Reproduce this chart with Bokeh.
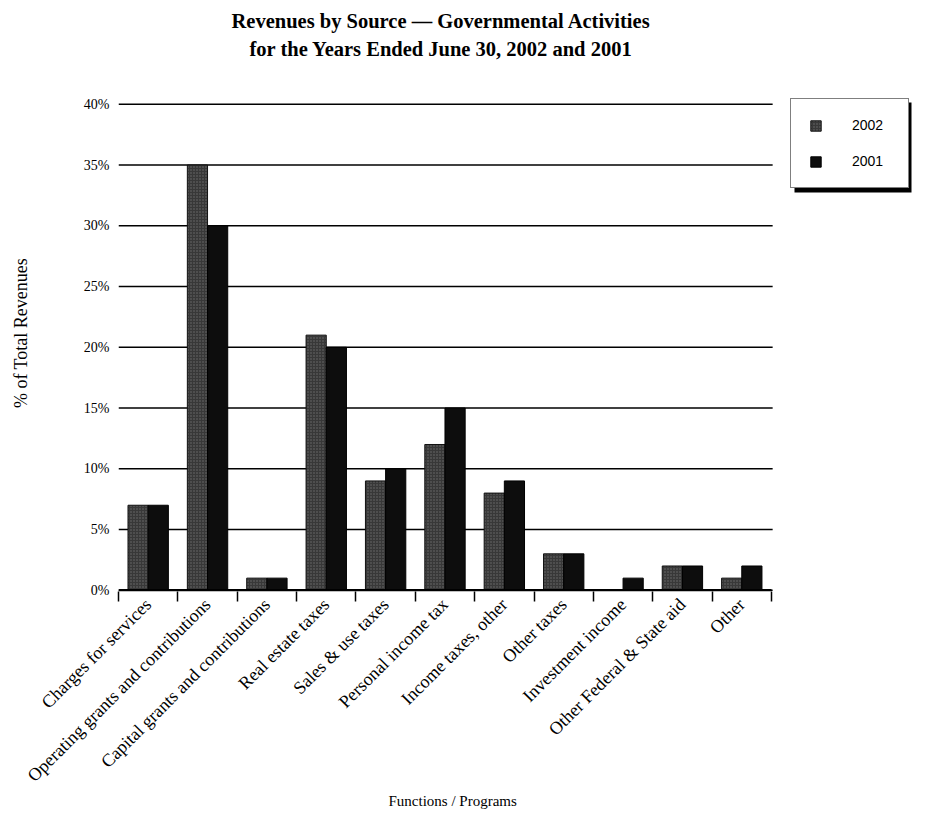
import numpy as np
from bokeh.plotting import figure
from bokeh.models import (ColumnDataSource, Range1d, FixedTicker, Title, Legend,
                          LegendItem, BoxAnnotation)
from bokeh.transform import dodge
from bokeh.embed import file_html
from bokeh.resources import INLINE

categories = ["Charges for services", "Operating grants and contributions",
              "Capital grants and contributions", "Real estate taxes",
              "Sales & use taxes", "Personal income tax", "Income taxes, other",
              "Other taxes", "Investment income", "Other Federal & State aid", "Other"]
v2002 = [7, 35, 1, 21, 9, 12, 8, 3, 0, 2, 1]
v2001 = [7, 30, 1, 20, 10, 15, 9, 3, 1, 2, 2]
y_ticks = [0, 5, 10, 15, 20, 25, 30, 35, 40]
y_tick_labels = ["0%", "5%", "10%", "15%", "20%", "25%", "30%", "35%", "40%"]

n = len(categories)
xs = list(range(1, n + 1))
src = ColumnDataSource(dict(x=xs, v2002=v2002, v2001=v2001))

SERIF = "Liberation Serif"
W, H = 915, 813
LEFT, TOP, BOTTOM = 118, 74, 222
PX_PER_CAT = 59.36
PX_PER_PCT = 12.15
frame_w = W - LEFT
frame_h = H - TOP - BOTTOM
x_end = 0.5 + frame_w / PX_PER_CAT
y_start = -0.1
y_end = y_start + frame_h / PX_PER_PCT

p = figure(width=W, height=H, output_backend="svg", toolbar_location=None,
           x_range=Range1d(0.5, x_end), y_range=Range1d(y_start, y_end),
           min_border_left=LEFT, min_border_right=0, min_border_top=TOP,
           min_border_bottom=BOTTOM)
p.outline_line_color = None
p.background_fill_color = "white"
p.border_fill_color = "white"
p.xgrid.grid_line_color = None
p.ygrid.grid_line_color = None

# horizontal grid lines spanning the category area only
grid_src = ColumnDataSource(dict(x0=[0.5] * len(y_ticks), x1=[n + 0.52] * len(y_ticks),
                                 y=y_ticks))
p.segment(x0="x0", x1="x1", y0="y", y1="y", source=grid_src,
          line_color="black", line_width=1.5)

r02 = p.vbar(x=dodge("x", -0.17, range=p.x_range), top="v2002", width=0.34, source=src,
             fill_color="#383838", line_color="#111111", line_width=1,
             hatch_pattern="dot", hatch_color="#bdbdbd", hatch_scale=3,
             hatch_weight=0.6, hatch_alpha=0.4)
r01 = p.vbar(x=dodge("x", 0.17, range=p.x_range), top="v2001", width=0.34, source=src,
             fill_color="#0d0d0d", line_color="#000000", line_width=1)

# baseline
p.segment(x0=[0.5], x1=[n + 0.5], y0=[0], y1=[0], line_color="black", line_width=2.5)

# x axis: labels at centres, tick marks at category boundaries
xa = p.xaxis[0]
xa.ticker = FixedTicker(ticks=xs, minor_ticks=[x - 0.5 for x in xs] + [n + 0.5])
xa.major_label_overrides = {x: c for x, c in zip(xs, categories)}
xa.major_label_orientation = np.pi / 4
xa.major_tick_out = 0
xa.major_tick_in = 0
xa.minor_tick_out = 10
xa.minor_tick_in = 0
xa.minor_tick_line_color = "black"
xa.minor_tick_line_width = 1.5
xa.axis_line_color = None
xa.major_label_text_font = SERIF
xa.major_label_text_font_style = "normal"
xa.major_label_text_font_size = "18px"
xa.major_label_text_color = "black"
xa.major_label_standoff = 0

# y axis
ya = p.yaxis[0]
ya.ticker = FixedTicker(ticks=y_ticks)
ya.major_label_overrides = {t: l for t, l in zip(y_ticks, y_tick_labels)}
ya.axis_line_color = None
ya.major_tick_line_color = None
ya.major_tick_out = 0
ya.major_tick_in = 0
ya.minor_tick_line_color = None
ya.major_label_text_font = SERIF
ya.major_label_text_font_size = "14px"
ya.major_label_text_color = "black"
ya.major_label_standoff = 9
ya.axis_label = "% of Total Revenues"
ya.axis_label_text_font = SERIF
ya.axis_label_text_font_style = "normal"
ya.axis_label_text_font_size = "18px"
ya.axis_label_text_color = "black"
ya.axis_label_standoff = 50

# titles
t2 = Title(text="for the Years Ended June 30, 2002 and 2001", align="left", offset=131,
           text_font=SERIF, text_font_style="bold", text_font_size="20.5px",
           text_color="black", standoff=30)
t1 = Title(text="Revenues by Source \u2014 Governmental Activities", align="left",
           offset=113, text_font=SERIF, text_font_style="bold", text_font_size="20.5px",
           text_color="black", standoff=-22)
p.add_layout(t2, "above")
p.add_layout(t1, "above")

xlab = Title(text="Functions / Programs", align="left", offset=270,
             text_font=SERIF, text_font_style="normal", text_font_size="15px",
             text_color="black", standoff=-10)
p.add_layout(xlab, "below")

# legend with drop shadow
LEG_X, LEG_Y, LEG_W, LEG_H = 672, 403, 117, 90
shadow = BoxAnnotation(left=LEG_X + 4, right=LEG_X + LEG_W + 4,
                       bottom=LEG_Y - 4, top=LEG_Y + LEG_H - 4,
                       left_units="screen", right_units="screen",
                       bottom_units="screen", top_units="screen",
                       fill_color="black", fill_alpha=1, line_color=None)
p.add_layout(shadow)

legend = Legend(items=[LegendItem(label="2002", renderers=[r02]),
                       LegendItem(label="2001", renderers=[r01])],
                location=(LEG_X, LEG_Y), orientation="vertical",
                border_line_color="black", border_line_width=1.5,
                background_fill_color="white", background_fill_alpha=1,
                label_text_font="Liberation Sans", label_text_font_size="14px",
                label_text_color="black", glyph_width=13, glyph_height=13,
                label_height=14, label_width=38, label_standoff=30,
                padding=18, spacing=20, margin=0)
p.add_layout(legend, "center")

open("out.html", "w").write(file_html(p, INLINE))
